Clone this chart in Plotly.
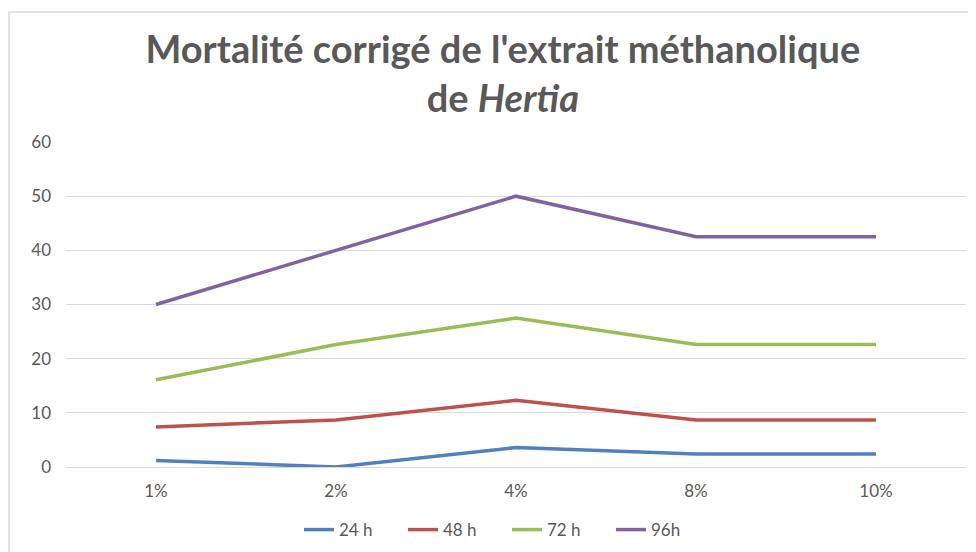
import plotly.graph_objects as go

# concentrations de l'extrait
doses = ["1%", "2%", "4%", "8%", "10%"]

# mortalité corrigée (%) par durée d'exposition
mort_24h = [1.2, 0.0, 3.6, 2.4, 2.4]
mort_48h = [7.4, 8.7, 12.3, 8.7, 8.7]
mort_72h = [16.1, 22.6, 27.5, 22.6, 22.6]
mort_96h = [30.0, 40.0, 50.0, 42.5, 42.5]

series = [
    ("24 h", mort_24h, "#4F81BD"),
    ("48 h", mort_48h, "#C0504D"),
    ("72 h", mort_72h, "#9BBB59"),
    ("96h", mort_96h, "#8064A2"),
]

fig = go.Figure()
for name, vals, color in series:
    fig.add_trace(go.Scatter(
        x=doses,
        y=vals,
        mode="lines",
        name=name,
        line=dict(color=color, width=3.5),
    ))

# cadre du graphique (style Excel)
fig.add_shape(
    type="rect", xref="paper", yref="paper",
    x0=-0.0633, x1=1.08, y0=-0.4, y1=1.4,
    line=dict(color="#D9D9D9", width=1.5),
    layer="below",
)

# la page ajoute une marge de 8 px : on compense à gauche et en haut
fig.update_layout(
    width=976,
    height=552,
    margin=dict(l=58, r=18, t=134, b=93),
    paper_bgcolor="white",
    plot_bgcolor="white",
    font=dict(family="Lato, Open Sans, sans-serif", color="#595959", size=17),
    title=dict(
        text="<b>Mortalité corrigé de l'extrait méthanolique<br>de <i>Hertia</i></b>",
        x=0.507, xanchor="center",
        y=1 - 55 / 552, yanchor="middle", yref="container",
        font=dict(size=38, color="#595959", family="Lato, Open Sans, sans-serif"),
    ),
    xaxis=dict(
        type="category",
        range=[-0.5, 4.5],
        showgrid=False,
        showline=False,
        ticks="",
        tickfont=dict(size=17, color="#595959"),
        ticklabelstandoff=12,
    ),
    yaxis=dict(
        range=[0, 60],
        dtick=10,
        showgrid=True,
        gridcolor="#D9D9D9",
        gridwidth=1,
        zeroline=True,
        zerolinecolor="#D9D9D9",
        zerolinewidth=1,
        showline=False,
        ticks="",
        tickfont=dict(size=17, color="#595959"),
        ticklabelstandoff=14,
    ),
    legend=dict(
        orientation="h",
        x=0.49, xanchor="center",
        y=-0.194, yanchor="middle",
        font=dict(size=17, color="#595959"),
        entrywidth=59,
        entrywidthmode="pixels",
        tracegroupgap=0,
    ),
    showlegend=True,
)

fig.write_html("out.html")
